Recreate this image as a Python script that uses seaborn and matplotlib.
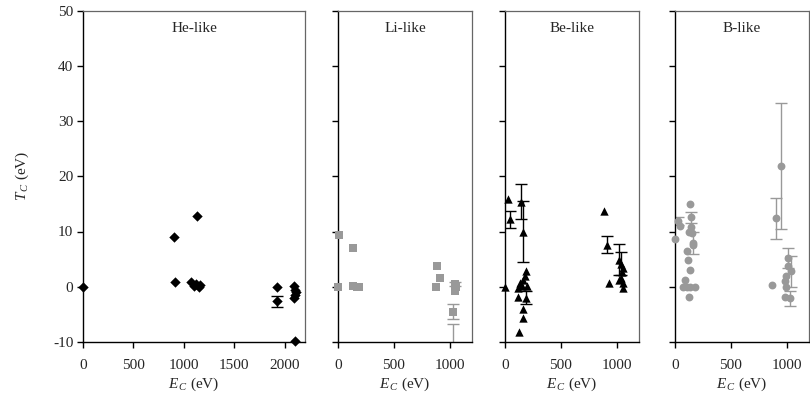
import numpy as np
import pandas as pd
import matplotlib
matplotlib.use("Agg")
import matplotlib.pyplot as plt
import seaborn as sns

sns.set_style("ticks")
plt.rcParams['font.family'] = ['Liberation Serif', 'DejaVu Serif']
plt.rcParams['mathtext.fontset'] = 'custom'
plt.rcParams['mathtext.rm'] = 'Liberation Serif'
plt.rcParams['mathtext.it'] = 'Liberation Serif:italic'
plt.rcParams['axes.unicode_minus'] = False

# ---------------- data ----------------
he_E = [0, 910, 900, 1130, 1070, 1100, 1120, 1150, 1160, 1920, 1920, 2090, 2100, 2110, 2100, 2090, 2100]
he_T = [0, 0.9, 9.0, 12.8, 0.8, 0.2, 0.5, 0.0, 0.3, 0.0, -2.6, 0.2, -0.5, -1.0, -1.5, -2.0, -9.8]
he_err = [0, 0, 0, 0, 0, 0, 0, 0, 0, 0, 1.0, 0, 0, 0, 0, 0, 0]

li_E = [12, 137, 0, 137, 167, 190, 887, 910, 875, 1045, 1053, 1045, 1030, 1030]
li_T = [9.4, 7.0, 0, 0.2, 0, -0.1, 3.8, 1.6, 0, 0.5, -0.1, -0.8, -4.5, -13.5]
li_err = [0, 0, 0, 0, 0, 0, 0, 0, 0, 0.4, 0, 0, 1.3, 6.7]

be_E = [24, 45, 140, 158, 0, 188, 182, 158, 134, 149, 119, 194, 113, 188, 158, 164, 128,
        890, 910, 934, 1024, 1036, 1054, 1045, 1036, 1054, 1060, 1020]
be_T = [15.8, 12.2, 15.4, 10.0, 0, 2.9, 2.0, 1.3, 0.7, 0.1, -0.2, 0.1, -1.8, -2.0, -4.0, -5.7, -8.1,
        13.8, 7.6, 0.6, 4.9, 4.2, 3.4, 2.6, 1.6, 0.7, -0.2, 1.2]
be_err = [0, 1.6, 3.2, 5.6, 0, 0, 0, 0, 0, 0, 0, 0, 0, 1.2, 0, 0, 0,
          0, 1.5, 0, 2.8, 2.0, 0, 0, 0, 0, 0, 0]

b_E = [0, 24, 44, 133, 140, 140, 127, 148, 163, 157, 110, 118, 133, 89, 74, 104, 133, 178, 124,
       902, 947, 873, 1015, 1015, 1036, 997, 985, 997, 985, 1030]
b_T = [8.7, 11.9, 11.0, 15.0, 12.6, 10.9, 10.0, 9.7, 7.9, 7.6, 6.5, 4.9, 3.1, 1.3, 0, 0, 0, 0, -1.8,
       12.4, 21.8, 0.3, 5.2, 3.8, 2.8, 1.9, 1.0, 0, -1.8, -2.1]
b_err = [0, 0.8, 0, 0, 1.0, 0, 0, 0, 2.0, 0, 0, 0, 0, 0, 0, 0, 0, 0, 0,
         3.7, 11.4, 0, 1.8, 0, 2.8, 0, 0, 0, 0, 1.3]

titles = ["He-like", "Li-like", "Be-like", "B-like"]
y_ticks = [-10, 0, 10, 20, 30, 40, 50]
y_min, y_max = -10, 50

BLACK = "#000000"
GRAY = "#999999"

panels = [
    (he_E, he_T, he_err, "D", BLACK, [0, 500, 1000, 1500, 2000], (0, 2200), [83, 305]),
    (li_E, li_T, li_err, "s", GRAY, [0, 500, 1000], (0, 1200), [338, 472]),
    (be_E, be_T, be_err, "^", BLACK, [0, 500, 1000], (0, 1200), [505, 639]),
    (b_E, b_T, b_err, "o", GRAY, [0, 500, 1000], (0, 1200), [675, 809]),
]

W, H = 810, 412
fig = plt.figure(figsize=(W / 100, H / 100), dpi=100)
top_px, bot_px = 10.5, 342

for i, (E, T, err, mk, col, xt, xlim, (l, r)) in enumerate(panels):
    ax = fig.add_axes([l / W, (H - bot_px) / H, (r - l) / W, (bot_px - top_px) / H])
    df = pd.DataFrame({"E": E, "T": T, "err": err})
    e = df[df["err"] > 0]
    if len(e):
        ax.errorbar(e["E"].values, e["T"].values, yerr=e["err"].values, fmt="none", ecolor=col,
                    elinewidth=1.0, capsize=4, capthick=1.0, zorder=2)
    vis = df[(df["T"] >= y_min) & (df["T"] <= y_max)]
    sizes = {"D": 28, "s": 26, "^": 36, "o": 32}
    sns.scatterplot(data=vis, x="E", y="T", marker=mk, color=col, s=sizes[mk],
                    edgecolor=col, linewidth=0, ax=ax, zorder=3, clip_on=False, legend=False)
    ax.set_xlim(*xlim)
    ax.set_ylim(y_min, y_max)
    ax.set_xticks(xt)
    ax.set_xticklabels([str(v) for v in xt])
    ax.set_yticks(y_ticks)
    if i == 0:
        ax.set_yticklabels([str(v) for v in y_ticks])
        ax.set_ylabel(r"$T_{\,C}$ (eV)", fontsize=11, labelpad=16)
    else:
        ax.set_yticklabels([])
        ax.set_ylabel("")
    ax.set_xlabel(r"$E_{\,C}$ (eV)", fontsize=11, labelpad=3)
    ax.tick_params(axis="both", direction="out", length=4, width=1, labelsize=11, color="black")
    ax.tick_params(axis="x", pad=8)
    ax.tick_params(axis="y", pad=3)
    for s in ["left", "bottom"]:
        ax.spines[s].set_color("black")
        ax.spines[s].set_linewidth(1.0)
    for s in ["top", "right"]:
        ax.spines[s].set_visible(True)
        ax.spines[s].set_color("#666666")
        ax.spines[s].set_linewidth(0.9)
    ax.text(0.5, 0.945, titles[i], transform=ax.transAxes, ha="center", va="center", fontsize=11)

fig.savefig("out.png", dpi=100)
